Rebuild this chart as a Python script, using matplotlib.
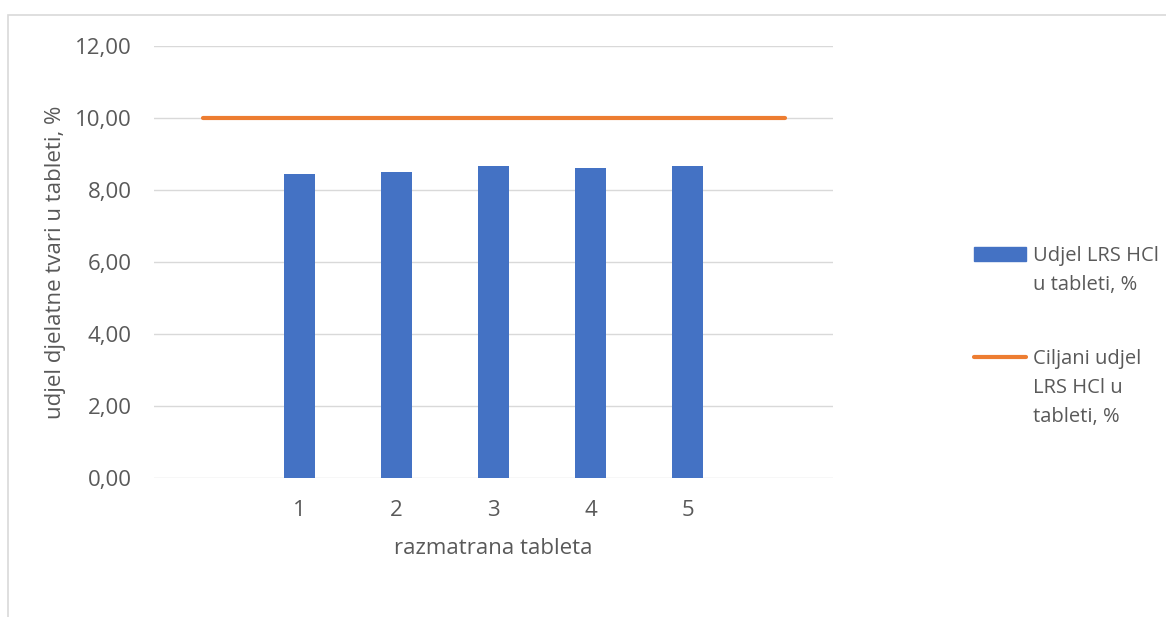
import matplotlib.pyplot as plt
from matplotlib.patches import Rectangle
from matplotlib.lines import Line2D

# podaci: udjel djelatne tvari po tableti i ciljani udjel
tablete = ["1", "2", "3", "4", "5"]
udjel_lrs = [8.44, 8.50, 8.67, 8.60, 8.68]
ciljani_udjel = [10.0, 10.0, 10.0, 10.0, 10.0, 10.0, 10.0]  # kategorije 0..6
y_ticks = [0, 2, 4, 6, 8, 10, 12]

plava = "#4472C4"
narancasta = "#ED7D31"
siva_tekst = "#595959"
siva_mreza = "#D9D9D9"
fs = 16
fs_leg = 14.5

plt.rcParams['font.family'] = ['Open Sans', 'DejaVu Sans']
plt.rcParams['font.size'] = fs

W, H = 1166, 617
fig = plt.figure(figsize=(W / 100, H / 100), dpi=100)

# okvir grafikona (desni i donji rub izlaze izvan slike)
fig.add_artist(Rectangle((7.5 / W, -1.0), 2.0, 2.0 - 14.5 / H, transform=fig.transFigure,
                         fill=False, edgecolor=siva_mreza, linewidth=1.2))

ax = fig.add_axes([154 / W, 1 - 478 / H, (833 - 154) / W, (478 - 46) / H])

x_bar = [i + 1 for i in range(len(tablete))]
x_line = list(range(len(ciljani_udjel)))

ax.bar(x_bar, udjel_lrs, width=0.31, color=plava, zorder=3)
ax.plot(x_line, ciljani_udjel, color=narancasta, linewidth=3.0,
        solid_capstyle='round', zorder=4)

ax.set_xlim(-0.5, len(ciljani_udjel) - 0.5)
ax.set_ylim(0, 12)
ax.set_yticks(y_ticks)
ax.set_yticklabels([f"{v:.2f}".replace(".", ",") for v in y_ticks])
ax.set_xticks(x_bar)
ax.set_xticklabels(tablete)

ax.grid(axis='y', color=siva_mreza, linewidth=1.0, zorder=0)
for s in ax.spines.values():
    s.set_visible(False)
ax.tick_params(length=0, colors=siva_tekst, labelsize=fs)
ax.tick_params(axis='y', pad=16)
ax.tick_params(axis='x', pad=16)

ax.set_xlabel("razmatrana tableta", color=siva_tekst, fontsize=fs, va='center')
ax.xaxis.set_label_coords(0.5, (478 - 549) / 432)
ax.set_ylabel("udjel djelatne tvari u tableti, %", color=siva_tekst, fontsize=fs, va='center')
ax.yaxis.set_label_coords((55 - 154) / 679, 0.5)


def legend_text(lines, baseline_px, step=29):
    for i, line in enumerate(lines):
        fig.text(1033 / W, 1 - (baseline_px + i * step) / H, line, color=siva_tekst,
                 fontsize=fs_leg, va='baseline', ha='left')


# legenda
fig.add_artist(Rectangle((974 / W, 1 - 261 / H), 52 / W, 14 / H,
                         transform=fig.transFigure, color=plava))
legend_text(["Udjel LRS HCl", "u tableti, %"], 261)
fig.add_artist(Line2D([974 / W, 1026 / W], [1 - 357 / H, 1 - 357 / H],
                      transform=fig.transFigure, color=narancasta, linewidth=3.0,
                      solid_capstyle='round'))
legend_text(["Ciljani udjel", "LRS HCl u", "tableti, %"], 364)

fig.savefig("out.png", dpi=100)
